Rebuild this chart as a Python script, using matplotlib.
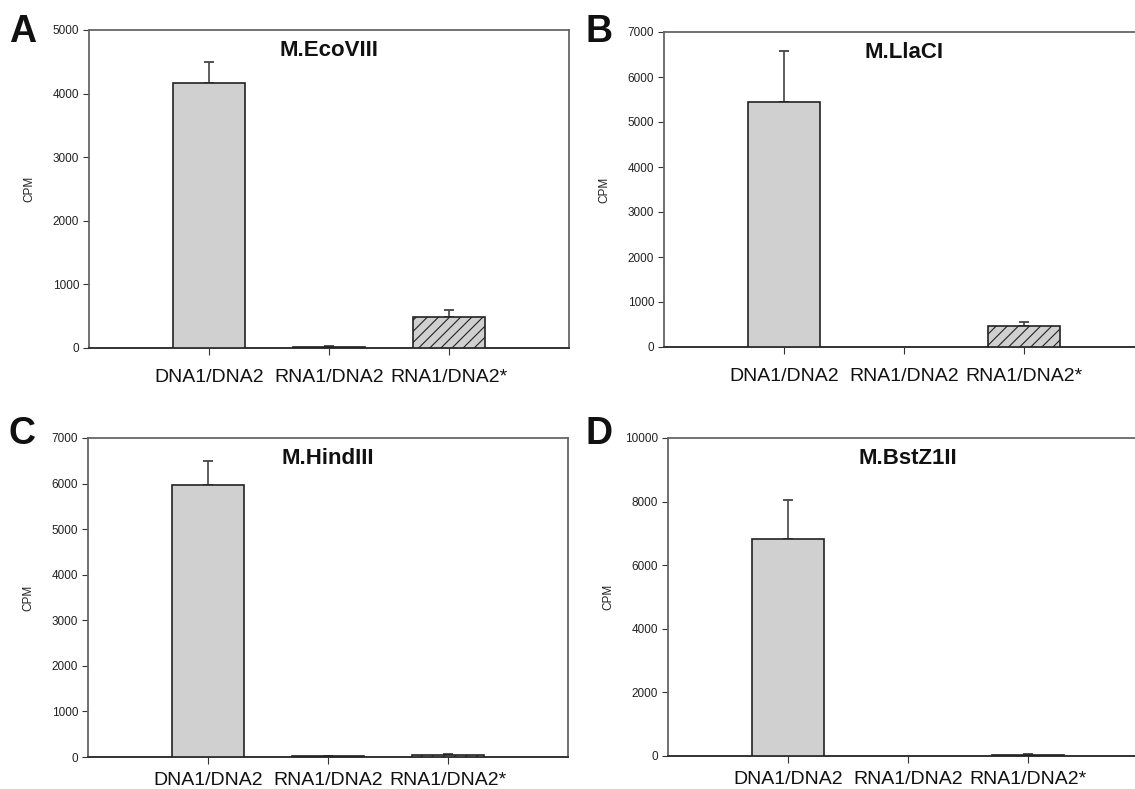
import numpy as np
import matplotlib.pyplot as plt

plt.rcParams['font.family'] = ['Liberation Sans', 'DejaVu Sans']
plt.rcParams['hatch.linewidth'] = 0.8

categories = ['DNA1/DNA2', 'RNA1/DNA2', 'RNA1/DNA2*']

# mean CPM and upper error for each enzyme
ecoviii_mean = [4170, 20, 480]
ecoviii_err = [330, 15, 115]
llaci_mean = [5450, 0, 460]
llaci_err = [1130, 0, 95]
hindiii_mean = [5970, 15, 45]
hindiii_err = [530, 10, 15]
bstz1ii_mean = [6830, 0, 30]
bstz1ii_err = [1220, 0, 30]

W, H = 1135, 789


def px_axes(fig, left, top, right, bottom):
    return fig.add_axes([left / W, 1 - bottom / H, (right - left) / W, (bottom - top) / H])


def panel(ax, means, errs, title, ymax, ystep, xpad=10):
    x = np.arange(1, len(categories) + 1)
    lw = [1.2 if m > 0 else 0 for m in means]
    bars = ax.bar(x, means, width=0.6, color='#d0d0d0', edgecolor='#222222',
                  linewidth=lw, zorder=3)
    bars[2].set_hatch('///')
    for xi, m, e in zip(x, means, errs):
        if e > 0:
            ax.errorbar(xi, m, yerr=[[0], [e]], fmt='none', ecolor='#444444',
                        elinewidth=1.2, capsize=3.5, capthick=1.3, zorder=2)
    ax.set_xlim(0, 4)
    ax.set_ylim(0, ymax)
    ax.set_yticks(np.arange(0, ymax + 1, ystep))
    ax.set_xticks(x)
    ax.set_xticklabels(categories, fontsize=14, color='#111111')
    ax.tick_params(axis='x', length=5, pad=xpad, color='#333333')
    ax.tick_params(axis='y', length=4, pad=3, labelsize=8.5, labelcolor='#222222', color='#333333')
    for s in ['top', 'right', 'left']:
        ax.spines[s].set_color('#666666')
        ax.spines[s].set_linewidth(1.3)
    ax.spines['bottom'].set_color('#333333')
    ax.spines['bottom'].set_linewidth(1.4)
    ax.set_ylabel('CPM', fontsize=8.5, color='#222222')
    ax.yaxis.set_label_coords(-54 / 480, 0.5)
    ax.text(0.5, 0.935, title, transform=ax.transAxes, ha='center', va='center',
            fontsize=16, fontweight='bold', color='#111111')


fig = plt.figure(figsize=(W / 100, H / 100), dpi=100)

ax_a = px_axes(fig, 89, 30, 569, 348)
panel(ax_a, ecoviii_mean, ecoviii_err, 'M.EcoVIII', 5000, 1000)
ax_b = px_axes(fig, 664, 32, 1144, 347)
panel(ax_b, llaci_mean, llaci_err, 'M.LlaCI', 7000, 1000)
ax_c = px_axes(fig, 88, 438, 568, 757)
panel(ax_c, hindiii_mean, hindiii_err, 'M.HindIII', 7000, 1000, xpad=6)
ax_d = px_axes(fig, 668, 438, 1148, 756)
panel(ax_d, bstz1ii_mean, bstz1ii_err, 'M.BstZ1II', 10000, 2000, xpad=6)

for letter, lx, ly in [('A', 9, 42), ('B', 586, 42), ('C', 9, 444), ('D', 586, 444)]:
    fig.text(lx / W, 1 - ly / H, letter, fontsize=27, fontweight='bold',
             ha='left', va='baseline', color='#111111')

fig.savefig('out.png', dpi=100)
